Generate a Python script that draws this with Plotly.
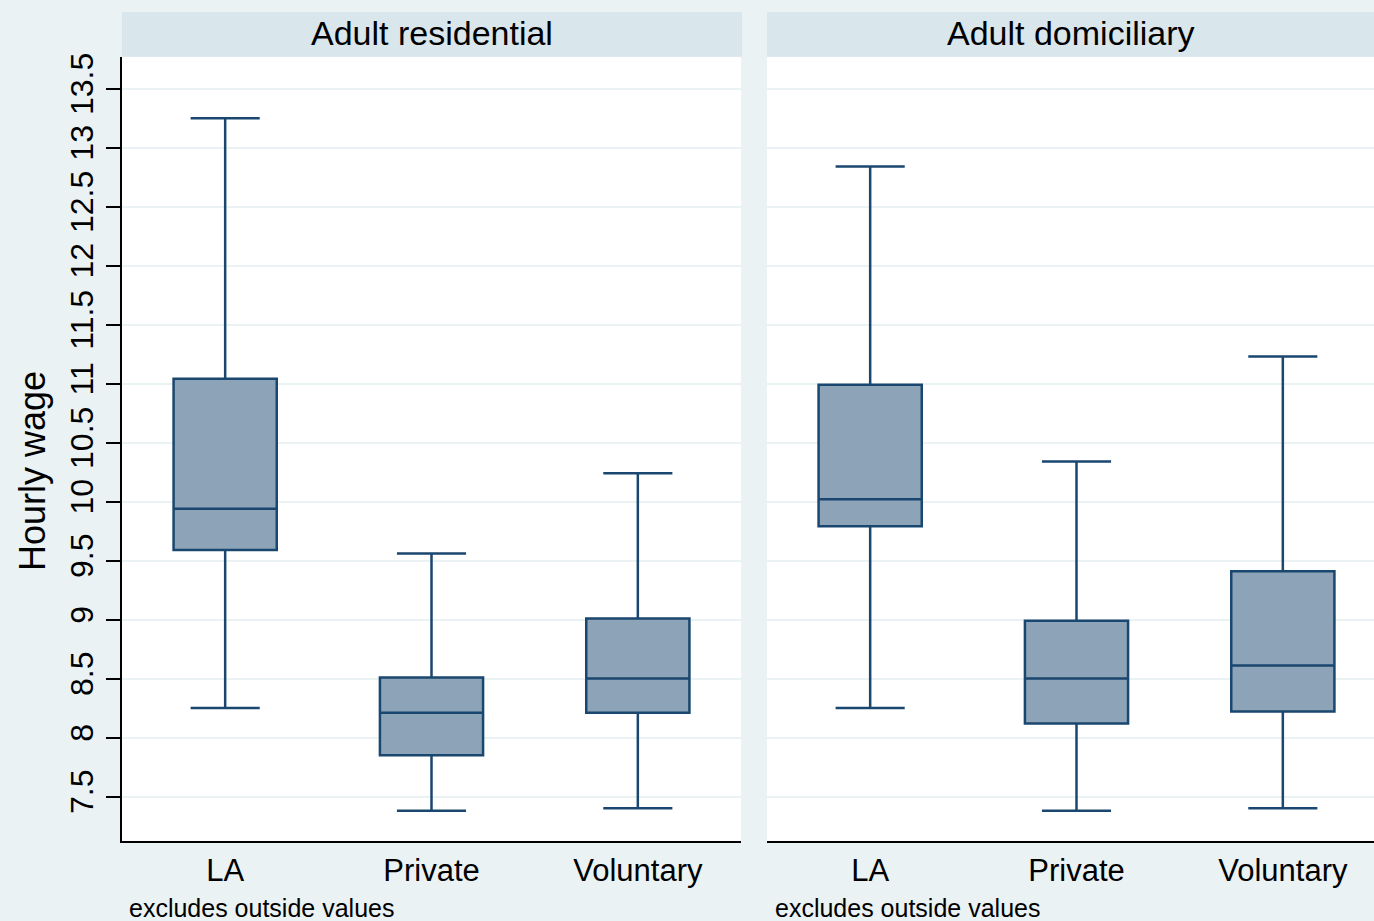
import plotly.graph_objects as go

categories = ["LA", "Private", "Voluntary"]
panels = ["Adult residential", "Adult domiciliary"]

res_lower = [8.25, 7.38, 7.40]
res_q1 = [9.59, 7.85, 8.21]
res_median = [9.94, 8.21, 8.50]
res_q3 = [11.04, 8.51, 9.01]
res_upper = [13.25, 9.56, 10.24]

dom_lower = [8.25, 7.38, 7.40]
dom_q1 = [9.79, 8.12, 8.22]
dom_median = [10.02, 8.50, 8.61]
dom_q3 = [10.99, 8.99, 9.41]
dom_upper = [12.84, 10.34, 11.23]

y_ticks = [7.5, 8, 8.5, 9, 9.5, 10, 10.5, 11, 11.5, 12, 12.5, 13, 13.5]
y_ticktext = ["7.5", "8", "8.5", "9", "9.5", "10", "10.5", "11", "11.5", "12", "12.5", "13", "13.5"]

W, H = 1374, 921
FONT = "Liberation Sans, Arial, sans-serif"
BG = "#EAF2F3"
HEAD = "#D9E6EB"
LINE = "#1A476F"
FILL = "rgb(141,163,183)"

xpos = [1, 2, 3]

fig = go.Figure()
for i, (lo, q1, med, q3, up) in enumerate([
        (res_lower, res_q1, res_median, res_q3, res_upper),
        (dom_lower, dom_q1, dom_median, dom_q3, dom_upper)]):
    fig.add_trace(go.Box(
        x=xpos, q1=q1, median=med, q3=q3, lowerfence=lo, upperfence=up,
        width=0.5, whiskerwidth=0.67, fillcolor=FILL,
        line=dict(color=LINE, width=2.5), boxpoints=False,
        xaxis="x" if i == 0 else "x2", yaxis="y" if i == 0 else "y2",
        showlegend=False, name=panels[i], hoverinfo="skip"))

def px_x(p):
    return p / W

def px_y(p):
    return 1 - p / H

left_dom = [px_x(122), px_x(741)]
right_dom = [px_x(767), 1.0]
unit = (741 - 122) / 3.0
right_max = 0.5 + (W - 767) / unit
ydom = [px_y(841), px_y(53)]
ytop = 13.5 + (85 - 53) / 118.5
ybot = 7.5 - (841 - 796) / 118.5

xcommon = dict(tickvals=xpos, ticktext=categories, showgrid=False, zeroline=False,
               showline=True, linecolor="black", linewidth=2, ticks="",
               tickfont=dict(size=31, family=FONT, color="black"))
ycommon = dict(range=[ybot, ytop], tickvals=y_ticks, ticktext=y_ticktext,
               showgrid=True, gridcolor=BG, gridwidth=2, zeroline=False)

fig.update_layout(
    width=W, height=H,
    margin=dict(l=0, r=0, t=0, b=0),
    paper_bgcolor=BG, plot_bgcolor="white",
    font=dict(family=FONT, color="black"),
    xaxis=dict(domain=left_dom, range=[0.5, 3.5], anchor="y", **xcommon),
    xaxis2=dict(domain=right_dom, range=[0.5, right_max], anchor="y2", **xcommon),
    yaxis=dict(domain=ydom, anchor="x", showline=True, linecolor="black", linewidth=2,
               ticks="outside", ticklen=14, tickwidth=2, tickcolor="black",
               tickangle=-90, tickfont=dict(size=32, family=FONT, color="black"), **ycommon),
    yaxis2=dict(domain=ydom, anchor="x2", showline=False, showticklabels=False,
                ticks="", **ycommon),
)

# Panel headers
for (x0, x1), title in zip([(122, 742), (767, W)], panels):
    fig.add_shape(type="rect", xref="paper", yref="paper",
                  x0=px_x(x0), x1=px_x(x1), y0=px_y(53), y1=px_y(8),
                  fillcolor=HEAD, line=dict(width=0), layer="below")
    fig.add_annotation(xref="paper", yref="paper", x=px_x((x0 + x1) / 2),
                       y=px_y(29), text=title, showarrow=False,
                       font=dict(size=34, family=FONT, color="black"),
                       xanchor="center", yanchor="middle")

# Notes
for xs in (127, 773):
    fig.add_annotation(xref="paper", yref="paper", x=px_x(xs), y=px_y(908),
                       text="excludes outside values", showarrow=False,
                       font=dict(size=25, family=FONT, color="black"),
                       xanchor="left", yanchor="middle")

# Y title
fig.add_annotation(xref="paper", yref="paper", x=px_x(33), y=px_y(469),
                   text="Hourly wage", showarrow=False, textangle=-90,
                   font=dict(size=36, family=FONT, color="black"),
                   xanchor="center", yanchor="middle")

fig.write_html("out.html",
               config={"displayModeBar": False},
               post_script="document.body.style.margin='0';document.body.style.padding='0';"
                           "document.body.style.overflow='hidden';"
                           "document.body.style.background='#EAF2F3';")
